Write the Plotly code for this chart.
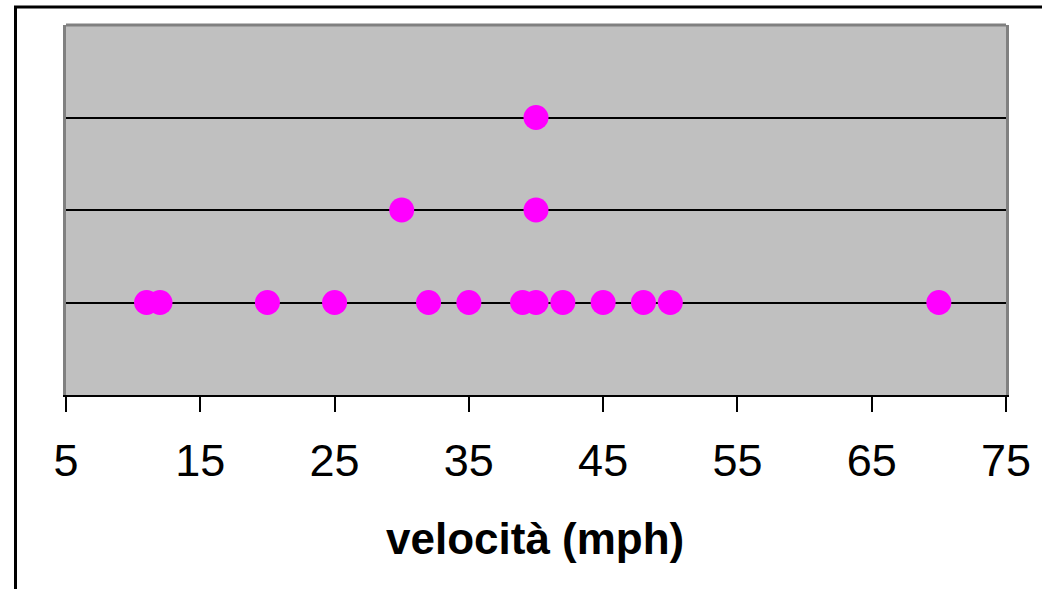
import plotly.graph_objects as go

# Data: speeds (mph) and their stack level in the dot plot
speeds = [11, 12, 20, 25, 32, 35, 39, 40, 42, 45, 48, 50, 70, 30, 40, 40]
levels = [1, 1, 1, 1, 1, 1, 1, 1, 1, 1, 1, 1, 1, 2, 2, 3]
x_ticks = [5, 15, 25, 35, 45, 55, 65, 75]
x_title = "velocità (mph)"

W, H = 1042, 589
L, R, T, B = 66, 36, 25, 194
pw, ph = W - L - R, H - T - B

fig = go.Figure()
fig.add_trace(go.Scatter(
    x=speeds, y=levels, mode="markers",
    marker=dict(color="#FF00FF", size=25, line=dict(width=0)),
    showlegend=False, cliponaxis=False,
))

def px_x(p):
    return (p - L) / pw

def px_y(p):
    return (H - B - p) / ph

fig.update_layout(
    width=W, height=H,
    margin=dict(l=L, r=R, t=T, b=B),
    paper_bgcolor="white",
    plot_bgcolor="#C0C0C0",
    font=dict(family="Liberation Sans, Arial, sans-serif", color="black"),
    xaxis=dict(
        range=[5, 75], tickvals=x_ticks, ticktext=[str(v) for v in x_ticks],
        showgrid=False, zeroline=False,
        showline=True, linecolor="black", linewidth=2,
        ticks="outside", ticklen=15, tickwidth=1.5, tickcolor="black",
        tickfont=dict(size=45, color="black"),
        ticklabelstandoff=10,
    ),
    yaxis=dict(
        range=[0, 4], tickvals=[1, 2, 3], showticklabels=False,
        showgrid=True, gridcolor="black", gridwidth=2, zeroline=False,
        showline=True, linecolor="#808080", linewidth=3, mirror=True, ticks="",
    ),
    annotations=[
        dict(text="<b>" + x_title + "</b>", xref="paper", yref="paper",
             x=px_x(535), y=px_y(538), xanchor="center", yanchor="middle",
             showarrow=False, font=dict(size=44, color="black")),
    ],
    shapes=[
        # top border of the plot area
        dict(type="line", xref="paper", yref="paper", x0=0, x1=1, y0=1, y1=1,
             line=dict(color="#808080", width=3)),
        # outer chart border (extends past the right and bottom edges)
        dict(type="rect", xref="paper", yref="paper",
             x0=px_x(15.5), x1=px_x(1060), y0=px_y(620), y1=px_y(7),
             line=dict(color="black", width=3), layer="above"),
    ],
)

fig.write_html("out.html")
